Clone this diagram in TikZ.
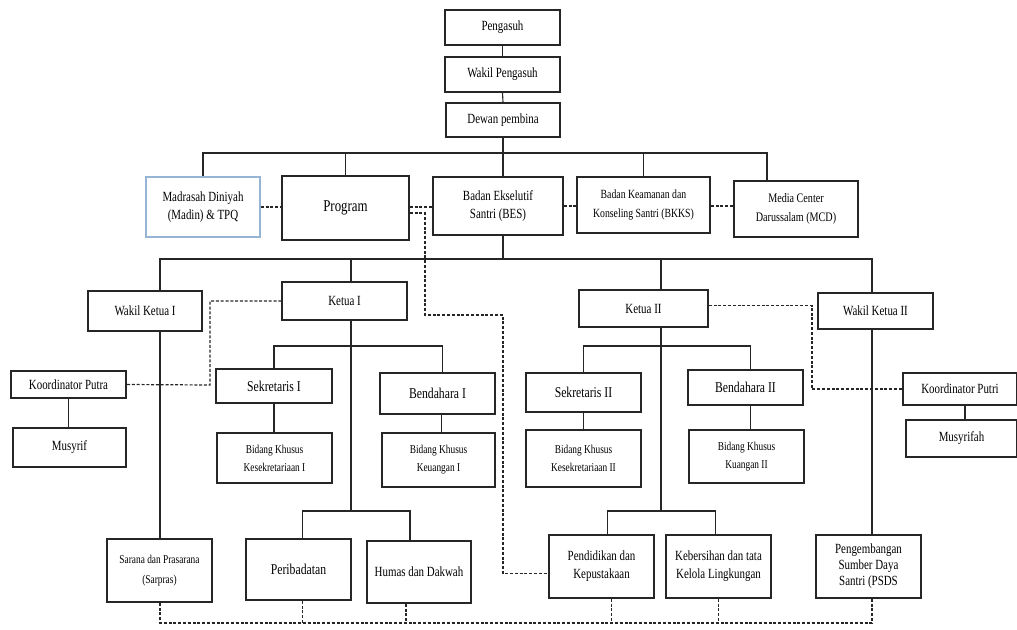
\documentclass[tikz,border=0pt]{standalone}
\usepackage{fontspec}
\setmainfont[FakeStretch=0.78]{Liberation Serif}
\definecolor{madinblue}{RGB}{150,180,212}

\begin{document}
\begin{tikzpicture}[x=1pt,y=-1pt,
  unit/.style={draw=black!85, line width=1.4pt, fill=white, align=center, inner sep=1pt,
    font=\fontsize{14}{18}\selectfont},
  sz/.style 2 args={minimum width=#1, minimum height=#2},
  link/.style={line width=1.1pt, black!85},
  dotlink/.style={line width=1.2pt, black!85, dash pattern=on 3pt off 1.8pt}]
\useasboundingbox (0,0) rectangle (1017,629);
% trunk columns and bus rows
\coordinate (tA) at (503,0);
\coordinate (tM) at (767,0);
\coordinate (tW1) at (160,0);
\coordinate (tK1) at (351,0);
\coordinate (tK2) at (661,0);
\coordinate (tW2) at (872,0);
\coordinate (bus1) at (0,153);
\coordinate (bus2) at (0,259);
\coordinate (bus3) at (0,346);
\coordinate (bus4) at (0,511);
\coordinate (bus5) at (0,623);

% top
\node[unit, sz={115}{35}] (peng) at (502.5,27.5) {Pengasuh};
\node[unit, sz={115}{35}] (wpeng) at (502.5,74.5) {Wakil Pengasuh};
\node[unit, sz={114}{34}] (dewan) at (503,120) {Dewan pembina};

% first row
\node[unit, sz={114}{60}, draw=madinblue] (madin) at (203,207) {Madrasah Diniyah\\(Madin) \& TPQ};
\node[unit, sz={127}{64}, font=\fontsize{16.5}{19}\selectfont] (program) at (345.5,208) {Program};
\node[unit, sz={130}{58}] (bes) at (498,206) {Badan Ekselutif\\Santri (BES)};
\node[unit, sz={133}{56}, font=\fontsize{12.5}{19}\selectfont] (bkks) at (643.5,205) {Badan Keamanan dan\\Konseling Santri (BKKS)};
\node[unit, sz={124}{56}, font=\fontsize{13}{19}\selectfont] (mcd) at (796,209) {Media Center\\Darussalam (MCD)};

% BES row
\node[unit, sz={114}{40}] (wk1) at (145,311) {Wakil Ketua I};
\node[unit, sz={125}{38}] (k1) at (344.5,301) {Ketua I};
\node[unit, sz={129}{37}] (k2) at (643.5,308.5) {Ketua II};
\node[unit, sz={115}{36}] (wk2) at (875.5,311) {Wakil Ketua II};

\node[unit, sz={115}{27}] (kputra) at (68.5,384.5) {Koordinator Putra};
\node[unit, sz={113}{39}] (musyrif) at (69.5,447.5) {Musyrif};
\node[unit, sz={116}{34}, font=\fontsize{15}{18}\selectfont] (sek1) at (274,386) {Sekretaris I};
\node[unit, sz={115}{41}, font=\fontsize{15}{18}\selectfont] (ben1) at (437.5,393.5) {Bendahara I};
\node[unit, sz={115}{50}, font=\fontsize{12}{18}\selectfont] (bks1) at (274.5,458) {Bidang Khusus\\Kesekretariaan I};
\node[unit, sz={113}{54}, font=\fontsize{12}{18}\selectfont] (bku1) at (438.5,460) {Bidang Khusus\\Keuangan I};

\node[unit, sz={115}{39}, font=\fontsize{15}{18}\selectfont] (sek2) at (583.5,392.5) {Sekretaris II};
\node[unit, sz={115}{35}, font=\fontsize{15}{18}\selectfont] (ben2) at (745.5,387.5) {Bendahara II};
\node[unit, sz={115}{57}, font=\fontsize{12}{18}\selectfont] (bks2) at (583.5,458.5) {Bidang Khusus\\Kesekretariaan II};
\node[unit, sz={115}{53}, font=\fontsize{12}{18}\selectfont] (bku2) at (746.5,456.5) {Bidang Khusus\\Kuangan II};
\node[unit, sz={114}{32}] (kputri) at (960,389) {Koordinator Putri};
\node[unit, sz={111}{37}] (musyrifah) at (961.5,438.5) {Musyrifah};

% bottom row
\node[unit, sz={105}{63}, font=\fontsize{12}{20}\selectfont] (sarana) at (159.5,570.5) {Sarana dan Prasarana\\(Sarpras)};
\node[unit, sz={105}{61}, font=\fontsize{15}{18}\selectfont] (peri) at (298.5,569.5) {Peribadatan};
\node[unit, sz={104}{62}] (humas) at (419,572) {Humas dan Dakwah};
\node[unit, sz={105}{63}] (pend) at (601.5,566.5) {Pendidikan dan\\Kepustakaan};
\node[unit, sz={105}{63}] (keb) at (718.5,566.5) {Kebersihan dan tata\\Kelola Lingkungan};
\node[unit, sz={105}{63}, font=\fontsize{14}{16}\selectfont] (psds) at (868.5,566.5) {Pengembangan\\Sumber Daya\\Santri (PSDS};

% solid lines
\draw[link] (peng.south) -- (wpeng.north);
\draw[link] (wpeng.south) -- (dewan.north);
\draw[link] (tA |- dewan.south) -- (tA |- bus1);
\draw[link] (madin.north) |- (tM |- bus1) -- (tM |- mcd.north);
\draw[link] (program.north) -- (program.north |- bus1);
\draw[link] (tA |- bes.north) -- (tA |- bus1);
\draw[link] (bkks.north) -- (bkks.north |- bus1);

\draw[link] (tA |- bes.south) -- (tA |- bus2);
\draw[link] (tW1 |- wk1.north) |- (tW2 |- bus2) -- (tW2 |- wk2.north);
\draw[link] (tK1 |- k1.north) -- (tK1 |- bus2);
\draw[link] (tK2 |- k2.north) -- (tK2 |- bus2);
\draw[link] (tW1 |- wk1.south) -- (tW1 |- sarana.north);
\draw[link] (tW2 |- wk2.south) -- (tW2 |- psds.north);

\draw[link] (kputra.south) -- (kputra.south |- musyrif.north);
\draw[link] ([xshift=5pt]kputri.south) -- ([xshift=5pt]kputri.south |- musyrifah.north);

\draw[link] (tK1 |- k1.south) -- (tK1 |- bus4);
\draw[link] (sek1.north) |- ([xshift=5pt]ben1.north |- bus3) -- ([xshift=5pt]ben1.north);
\draw[link] (sek1.south) -- (sek1.south |- bks1.north);
\draw[link] ([xshift=4pt]ben1.south) -- ([xshift=4pt]ben1.south |- bku1.north);
\draw[link] ([xshift=4pt]peri.north) |- ([xshift=-9pt]humas.north |- bus4) -- ([xshift=-9pt]humas.north);

\draw[link] (tK2 |- k2.south) -- (tK2 |- bus4);
\draw[link] (sek2.north) |- ([xshift=5pt]ben2.north |- bus3) -- ([xshift=5pt]ben2.north);
\draw[link] (sek2.south) -- (sek2.south |- bks2.north);
\draw[link] ([xshift=5pt]ben2.south) -- ([xshift=5pt]ben2.south |- bku2.north);
\draw[link] ([xshift=6pt]pend.north) |- ([xshift=-3pt]keb.north |- bus4) -- ([xshift=-3pt]keb.north);

% dashed lines
\draw[dotlink] (madin.east) -- (madin.east -| program.west);
\draw[dotlink] ([yshift=1pt]program.east) -- ([yshift=1pt]program.east -| bes.west);
\draw[dotlink] (bes.east) -- (bes.east -| bkks.west);
\draw[dotlink] ([yshift=-1pt]bkks.east) -- ([yshift=-1pt]bkks.east -| mcd.west);
\draw[dotlink] ([yshift=-5pt]program.east) -| (425,315) -- (503,315) |- ([yshift=-7pt]pend.west);
\draw[dotlink] (k1.west) -| (210,385) -- (kputra.east);
\draw[dotlink] ([yshift=3pt]k2.east) -| (812,389) -- (kputri.west);
\draw[dotlink] (tW1 |- sarana.south) |- (tW2 |- bus5) -- (tW2 |- psds.south);
\draw[dotlink] ([xshift=4pt]peri.south) -- ([xshift=4pt]peri.south |- bus5);
\draw[dotlink] ([xshift=-13pt]humas.south) -- ([xshift=-13pt]humas.south |- bus5);
\draw[dotlink] ([xshift=10pt]pend.south) -- ([xshift=10pt]pend.south |- bus5);
\draw[dotlink] (keb.south) -- (keb.south |- bus5);
\end{tikzpicture}
\end{document}
